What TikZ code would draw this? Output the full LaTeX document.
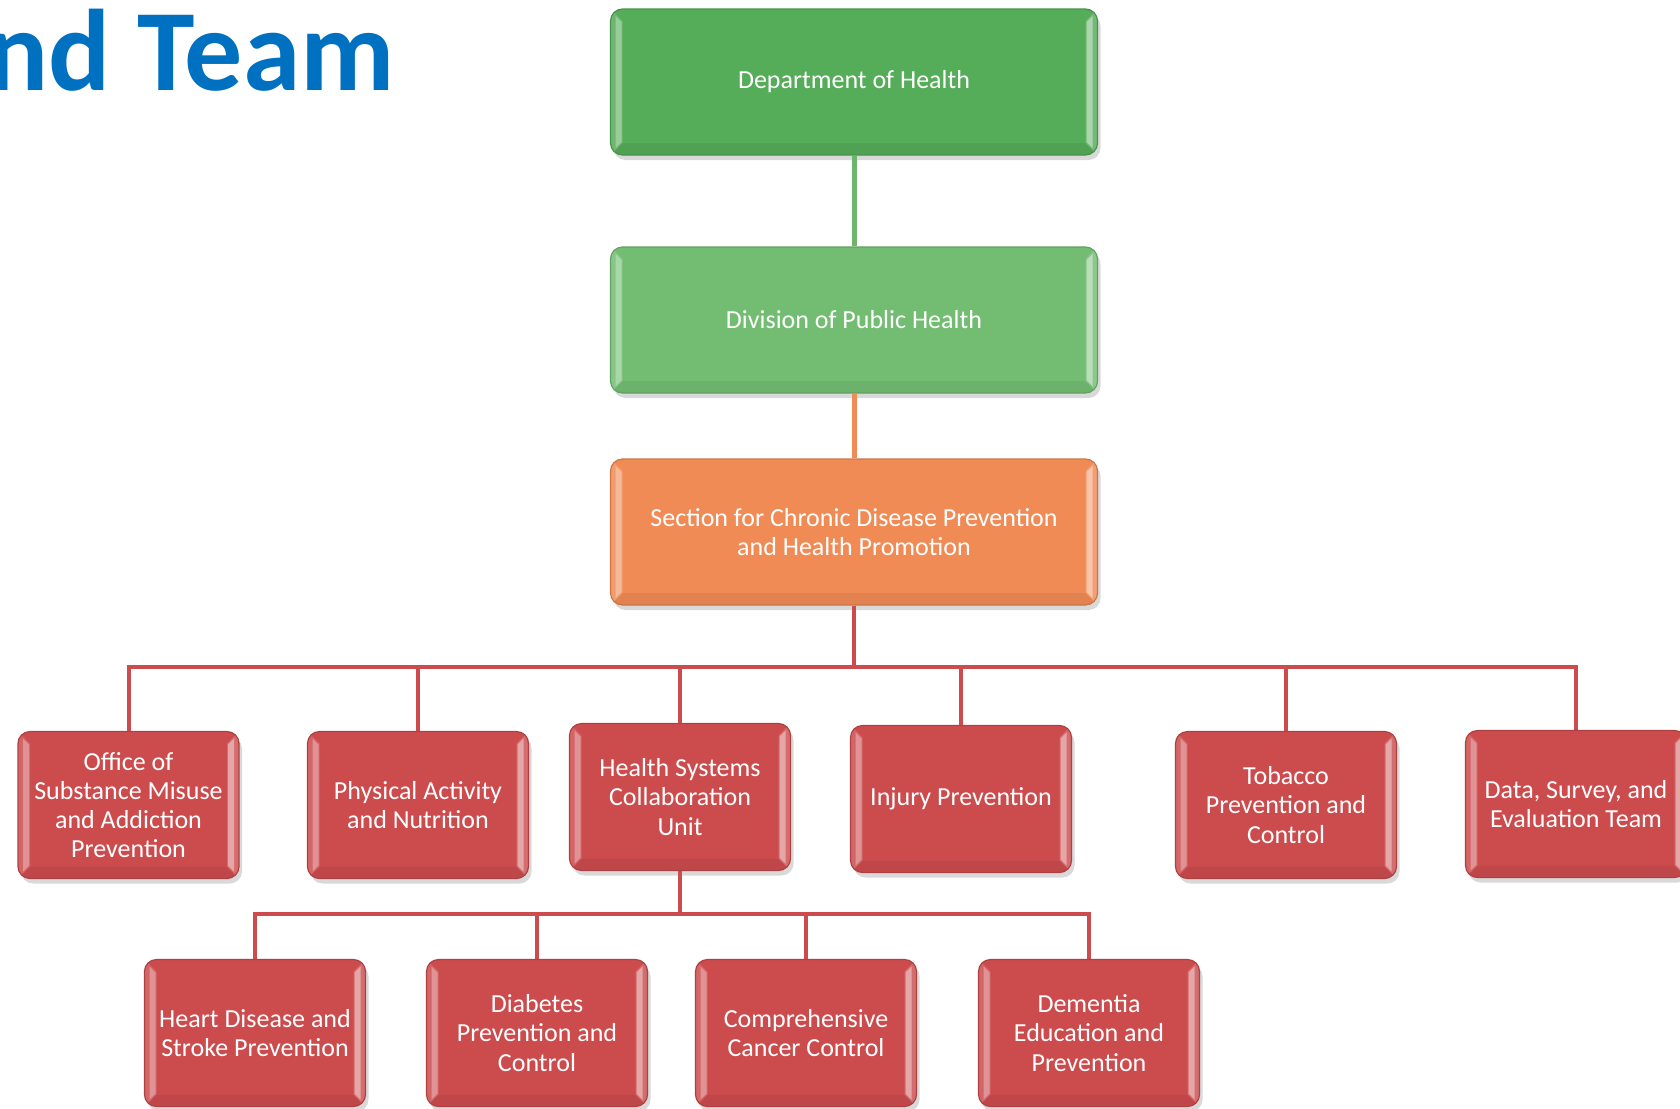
\documentclass[tikz,border=0pt]{standalone}
\usepackage{fontspec}
\setmainfont{Carlito}
\usetikzlibrary{shadows,positioning}

% light edges on the left and right of each box
\newcommand\unitbevel{%
  \fill[sharp corners,white,opacity=.14] (path picture bounding box.north west) -- ++(6pt,-6pt)
    -- ([shift={(6pt,6pt)}]path picture bounding box.south west) -- (path picture bounding box.south west) -- cycle;
  \fill[sharp corners,white,opacity=.30] ([shift={(2.5pt,-3.5pt)}]path picture bounding box.north west) -- ++(3pt,-3pt)
    -- ([shift={(5.5pt,6.5pt)}]path picture bounding box.south west) -- ++(-3pt,-3pt) -- cycle;
  \fill[sharp corners,white,opacity=.18] (path picture bounding box.north east) -- ++(-6pt,-6pt)
    -- ([shift={(-6pt,6pt)}]path picture bounding box.south east) -- (path picture bounding box.south east) -- cycle;
  \fill[sharp corners,white,opacity=.40] ([shift={(-2.5pt,-3.5pt)}]path picture bounding box.north east) -- ++(-3pt,-3pt)
    -- ([shift={(-5.5pt,6.5pt)}]path picture bounding box.south east) -- ++(3pt,-3pt) -- cycle;
  \fill[sharp corners,black,opacity=.06] (path picture bounding box.south west) -- ++(6pt,6pt)
    -- ([shift={(-6pt,6pt)}]path picture bounding box.south east) -- (path picture bounding box.south east) -- cycle;
}

\begin{document}
\begin{tikzpicture}[x=0.5pt,y=-0.5pt,every text node part/.style={align=center},
  unit/.style={rounded corners=6pt, minimum width=110.5pt, minimum height=73.5pt, inner sep=1pt,
    text=white, font=\fontsize{13}{14.6}\selectfont, line width=.6pt,
    drop shadow={shadow xshift=1.5pt,shadow yshift=-2.5pt,opacity=.3}, path picture={\unitbevel}},
  wideunit/.style={unit, minimum width=243.5pt, minimum height=73pt},
  link/.style={line width=2pt}]

\definecolor{titleblue}{RGB}{0,112,192}
\definecolor{deptgreen}{RGB}{85,172,89}
\definecolor{divgreen}{RGB}{115,189,115}
\definecolor{sectorange}{RGB}{240,139,85}
\definecolor{unitred}{RGB}{204,76,78}

    \useasboundingbox (0,0) rectangle (1680,1108);
    \clip (0,0) rectangle (1680,1108);

    %% title
    \node[anchor=base east, inner sep=0, text=titleblue, font=\fontsize{58}{60}\selectfont\bfseries] (title) at (395,90) {nd Team};

    %% top levels
    \node[wideunit, fill=deptgreen, draw=deptgreen!85!black] (dept) at (854,82) {Department of Health};
    \node[wideunit, fill=divgreen, draw=divgreen!85!black] (division) at (854,320) {Division of Public Health};
    \node[wideunit, fill=sectorange, draw=sectorange!85!black] (section) at (854,532) {Section for Chronic Disease Prevention\\and Health Promotion};

    % units
    \tikzset{every node/.append style={fill=unitred, draw=unitred!85!black}}
    \node[unit] (office) at (128.5,805) {Office of\\Substance Misuse\\and Addiction\\Prevention};
    \node[unit] (physical) at (418,805) {Physical Activity\\and Nutrition};
    \node[unit] (hsys) at (680,797) {Health Systems\\Collaboration\\Unit};
    \node[unit] (injury) at (961,799) {Injury Prevention};
    \node[unit] (tobacco) at (1286,805) {Tobacco\\Prevention and\\Control};
    \node[unit] (data) at (1576,804) {Data, Survey, and\\Evaluation Team};

    % programs under health systems
    \node[unit] (heart) at (255,1033) {Heart Disease and\\Stroke Prevention};
    \node[unit] (diabetes) at (537,1033) {Diabetes\\Prevention and\\Control};
    \node[unit] (cancer) at (806,1033) {Comprehensive\\Cancer Control};
    \node[unit] (dementia) at (1089,1033) {Dementia\\Education and\\Prevention};

    % connectors
    \draw[link, line width=2.5pt, color=divgreen!95!black] (dept) -- (division);
    \draw[link, line width=2.5pt, color=sectorange] (division) -- (section);

    \coordinate (bus1) at (854,667);
    \foreach \u in {office,physical,hsys,injury,tobacco,data}
      \draw[link, color=unitred] (section.south) -- (bus1) -| (\u.north);

    \coordinate (bus2) at (680,914);
    \foreach \u in {heart,diabetes,cancer,dementia}
      \draw[link, color=unitred] (hsys.south) -- (bus2) -| (\u.north);
  \end{tikzpicture}
\end{document}
